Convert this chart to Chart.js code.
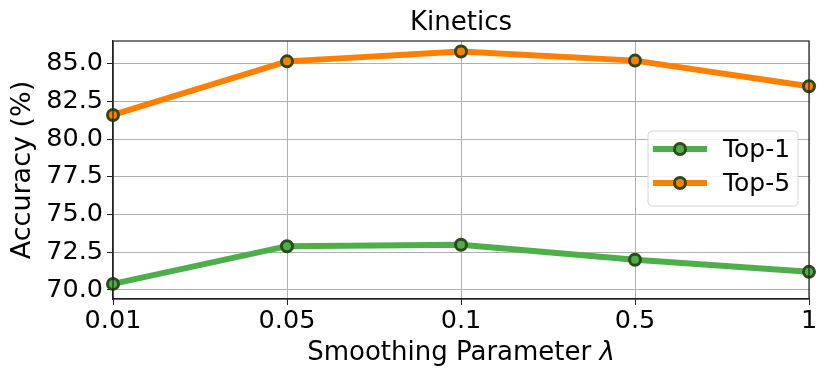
<!DOCTYPE html>
<html>
<head>
<meta charset="utf-8">
<script src="https://cdn.jsdelivr.net/npm/chart.js@4"></script>
<style>
  html, body { margin: 0; padding: 0; background: #fff; }
  #wrap { width: 830px; height: 376px; }
</style>
</head>
<body>
<div id="wrap"><canvas id="chart" width="830" height="376"></canvas></div>
<script>
// valores
const lambdas = ['0.01', '0.05', '0.1', '0.5', '1'];
const top1 = [70.4, 72.9, 73.0, 72.0, 71.2];
const top5 = [81.6, 85.15, 85.8, 85.2, 83.5];
const yTicks = [70, 72.5, 75, 77.5, 80, 82.5, 85];

const FONT = "'DejaVu Sans', sans-serif";
const GREEN = '#4daf4a';
const ORANGE = '#ff7f00';
const EDGE = '#2d4a1c';

// marco completo alrededor del área de datos
const frame = {
    id: 'frame',
    afterDatasetsDraw(chart) {
        const a = chart.chartArea;
        const ctx = chart.ctx;
        ctx.save();
        ctx.strokeStyle = '#222';
        ctx.lineWidth = 1.2;
        ctx.strokeRect(a.left, a.top, a.right - a.left, a.bottom - a.top);
        ctx.restore();
    }
};

// título arriba y título del eje x (lambda en cursiva), centrados sobre el área
const titles = {
    id: 'titles',
    afterDraw(chart) {
        const a = chart.chartArea;
        const cx = (a.left + a.right) / 2;
        const ctx = chart.ctx;
        ctx.save();
        ctx.fillStyle = '#000';
        ctx.textBaseline = 'alphabetic';
        ctx.font = '26px ' + FONT;
        ctx.textAlign = 'center';
        ctx.fillText('Kinetics', cx, 30);
        ctx.textAlign = 'left';
        const t1 = 'Smoothing Parameter ';
        const t2 = 'λ';
        const w1 = ctx.measureText(t1).width;
        ctx.font = 'italic 26px ' + FONT;
        const w2 = ctx.measureText(t2).width;
        const x0 = cx - (w1 + w2) / 2;
        ctx.font = '26px ' + FONT;
        ctx.fillText(t1, x0, 360);
        ctx.font = 'italic 26px ' + FONT;
        ctx.fillText(t2, x0 + w1, 360);
        ctx.restore();
    }
};

// leyenda dentro del área, a la derecha
const insideLegend = {
    id: 'insideLegend',
    afterDraw(chart) {
        const ctx = chart.ctx;
        const x0 = 648, y0 = 131, w = 150, h = 75;
        ctx.save();
        ctx.beginPath();
        ctx.roundRect(x0, y0, w, h, 4);
        ctx.fillStyle = 'rgba(255,255,255,0.85)';
        ctx.fill();
        ctx.strokeStyle = '#d6d6d6';
        ctx.lineWidth = 1;
        ctx.stroke();
        chart.data.datasets.forEach(function (ds, i) {
            const y = 149 + i * 34;
            ctx.strokeStyle = ds.borderColor;
            ctx.lineWidth = 6;
            ctx.beginPath();
            ctx.moveTo(653, y);
            ctx.lineTo(707, y);
            ctx.stroke();
            ctx.beginPath();
            ctx.arc(680, y, 5.5, 0, Math.PI * 2);
            ctx.fillStyle = ds.pointBackgroundColor;
            ctx.fill();
            ctx.strokeStyle = EDGE;
            ctx.lineWidth = 3;
            ctx.stroke();
            ctx.fillStyle = '#000';
            ctx.font = '25px ' + FONT;
            ctx.textBaseline = 'middle';
            ctx.fillText(ds.label, 723, y + 1);
        });
        ctx.restore();
    }
};

const ctx = document.getElementById('chart').getContext('2d');
new Chart(ctx, {
    type: 'line',
    data: {
        labels: lambdas,
        datasets: [
            {
                label: 'Top-1',
                data: top1,
                borderColor: GREEN,
                backgroundColor: GREEN,
                pointBackgroundColor: GREEN,
                pointBorderColor: EDGE,
                borderWidth: 6,
                pointRadius: 5.5,
                pointBorderWidth: 3,
                tension: 0
            },
            {
                label: 'Top-5',
                data: top5,
                borderColor: ORANGE,
                backgroundColor: ORANGE,
                pointBackgroundColor: ORANGE,
                pointBorderColor: EDGE,
                borderWidth: 6,
                pointRadius: 5.5,
                pointBorderWidth: 3,
                tension: 0
            }
        ]
    },
    options: {
        responsive: false,
        animation: false,
        devicePixelRatio: 1,
        layout: { padding: { left: 0, right: 21, top: 41, bottom: 0 } },
        plugins: {
            legend: { display: false },
            tooltip: { enabled: false },
            title: { display: false }
        },
        scales: {
            x: {
                type: 'category',
                offset: false,
                grid: { color: '#b0b0b0', lineWidth: 1, tickLength: 6, tickColor: '#222', drawTicks: true },
                border: { color: '#222', width: 1.2 },
                ticks: { color: '#000', font: { family: FONT, size: 25.5 }, padding: 1, maxRotation: 0, autoSkip: false },
                title: { display: false },
                afterFit(scale) { scale.height = 77; }
            },
            y: {
                min: 69.4,
                max: 86.5,
                grid: { color: '#b0b0b0', lineWidth: 1, tickLength: 6, tickColor: '#222' },
                border: { color: '#222', width: 1.2 },
                afterBuildTicks(scale) {
                    scale.ticks = yTicks.map(function (v) { return { value: v }; });
                },
                ticks: {
                    color: '#000',
                    font: { family: FONT, size: 25.5 },
                    padding: 4,
                    callback: function (v) { return Number(v).toFixed(1); }
                },
                title: {
                    display: true,
                    text: 'Accuracy (%)',
                    color: '#000',
                    font: { family: FONT, size: 27 },
                    padding: { top: 7, bottom: 0 }
                },
                afterFit(scale) { scale.width = 113; }
            }
        }
    },
    plugins: [frame, titles, insideLegend]
});
</script>
</body>
</html>
